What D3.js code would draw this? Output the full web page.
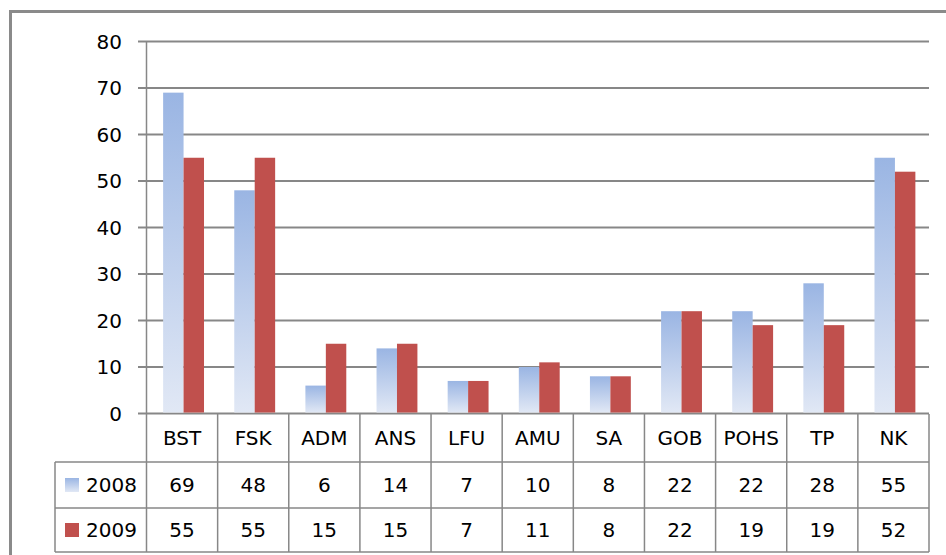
<!DOCTYPE html>
<html>
<head>
<meta charset="utf-8">
<script src="https://cdn.jsdelivr.net/npm/d3@7"></script>
<style>
  body { margin: 0; background: #fff; }
  svg { display: block; font-family: "DejaVu Sans", sans-serif; }
</style>
</head>
<body>
<script>
var categories = ["BST", "FSK", "ADM", "ANS", "LFU", "AMU", "SA", "GOB", "POHS", "TP", "NK"]
var series = ["2008", "2009"]
var values2008 = [69, 48, 6, 14, 7, 10, 8, 22, 22, 28, 55]
var values2009 = [55, 55, 15, 15, 7, 11, 8, 22, 19, 19, 52]
var yTicks = [0, 10, 20, 30, 40, 50, 60, 70, 80]

var width = 946,
    height = 555,
    fontSize = 20

var svg = d3.select("body")
  .append("svg")
  .attr("width", width)
  .attr("height", height)

var defs = svg.append("defs")
var grad = defs.append("linearGradient")
  .attr("id", "blueGrad")
  .attr("x1", 0).attr("y1", 0)
  .attr("x2", 0).attr("y2", 1)
grad.append("stop").attr("offset", "0%").attr("stop-color", "#9ab5e3")
grad.append("stop").attr("offset", "100%").attr("stop-color", "#e1e8f5")

var colors = { "2008": "url(#blueGrad)", "2009": "#c0504d" }
var gridColor = "#878787"

// outer chart frame (runs off the right and bottom edges)
svg.append("rect")
  .attr("x", 10.5)
  .attr("y", 11.5)
  .attr("width", 2000)
  .attr("height", 2000)
  .attr("fill", "none")
  .attr("stroke", "#8a8a8a")
  .attr("stroke-width", 3)

var x0 = d3.scaleBand().domain(categories).range([146.5, 929])
var x1 = d3.scaleBand().domain(series).range([1.5, x0.bandwidth() + 1.5]).paddingOuter(0.74)
var y = d3.scaleLinear().domain([0, 80]).range([413.5, 41.5])

// gridlines + y labels
svg.append("g").selectAll("line")
  .data(yTicks)
  .enter().append("line")
  .attr("x1", 138)
  .attr("x2", 929)
  .attr("y1", function(d) { return y(d) })
  .attr("y2", function(d) { return y(d) })
  .attr("stroke", gridColor)
  .attr("stroke-width", 2)

svg.append("g").selectAll("text")
  .data(yTicks)
  .enter().append("text")
  .text(function(d) { return d })
  .attr("x", 122)
  .attr("y", function(d) { return y(d) })
  .attr("dy", "0.36em")
  .attr("text-anchor", "end")
  .attr("font-size", fontSize)
  .attr("fill", "#000")

svg.append("line")
  .attr("x1", 146.5).attr("x2", 146.5)
  .attr("y1", y(80)).attr("y2", y(0))
  .attr("stroke", gridColor)
  .attr("stroke-width", 1.5)

// bars
var rows = categories.map(function(c, i) {
  return { cat: c, vals: [{ s: "2008", v: values2008[i] }, { s: "2009", v: values2009[i] }] }
})

var groups = svg.append("g").selectAll("g")
  .data(rows)
  .enter().append("g")
  .attr("transform", function(d) { return "translate(" + x0(d.cat) + " 0)" })

groups.selectAll("rect")
  .data(function(d) { return d.vals })
  .enter().append("rect")
  .attr("x", function(d) { return x1(d.s) })
  .attr("width", x1.bandwidth())
  .attr("y", function(d) { return y(d.v) })
  .attr("height", function(d) { return y(0) - y(d.v) - 1 })
  .attr("fill", function(d) { return colors[d.s] })

// data table
var rowTop = [414, 462, 508, 552]
var table = svg.append("g")
var edges = categories.map(function(c) { return x0(c) }).concat([929])

table.selectAll(".vline")
  .data(edges)
  .enter().append("line")
  .attr("x1", function(d) { return d })
  .attr("x2", function(d) { return d })
  .attr("y1", rowTop[0])
  .attr("y2", rowTop[3])
  .attr("stroke", gridColor)
  .attr("stroke-width", 1.5)

table.selectAll(".hline")
  .data(rowTop.slice(1))
  .enter().append("line")
  .attr("x1", 55)
  .attr("x2", 929)
  .attr("y1", function(d) { return d })
  .attr("y2", function(d) { return d })
  .attr("stroke", gridColor)
  .attr("stroke-width", 1.5)

table.append("line")
  .attr("x1", 55).attr("x2", 55)
  .attr("y1", rowTop[1]).attr("y2", rowTop[3])
  .attr("stroke", gridColor)
  .attr("stroke-width", 1.5)

function cellY(r) { return (rowTop[r] + rowTop[r + 1]) / 2 }

table.selectAll(".cat")
  .data(categories)
  .enter().append("text")
  .text(function(d) { return d })
  .attr("x", function(d) { return x0(d) + x0.bandwidth() / 2 })
  .attr("y", cellY(0))
  .attr("dy", "0.36em")
  .attr("text-anchor", "middle")
  .attr("font-size", fontSize)

var tableRows = [values2008, values2009]
tableRows.forEach(function(vals, r) {
  table.append("g").selectAll("text")
    .data(vals)
    .enter().append("text")
    .text(function(d) { return d })
    .attr("x", function(d, i) { return x0(categories[i]) + x0.bandwidth() / 2 })
    .attr("y", cellY(r + 1))
    .attr("dy", "0.36em")
    .attr("text-anchor", "middle")
    .attr("font-size", fontSize)

  table.append("rect")
    .attr("x", 65)
    .attr("y", cellY(r + 1) - 7)
    .attr("width", 14)
    .attr("height", 14)
    .attr("fill", colors[series[r]])

  table.append("text")
    .text(series[r])
    .attr("x", 86)
    .attr("y", cellY(r + 1))
    .attr("dy", "0.36em")
    .attr("font-size", fontSize)
})
</script>
</body>
</html>
